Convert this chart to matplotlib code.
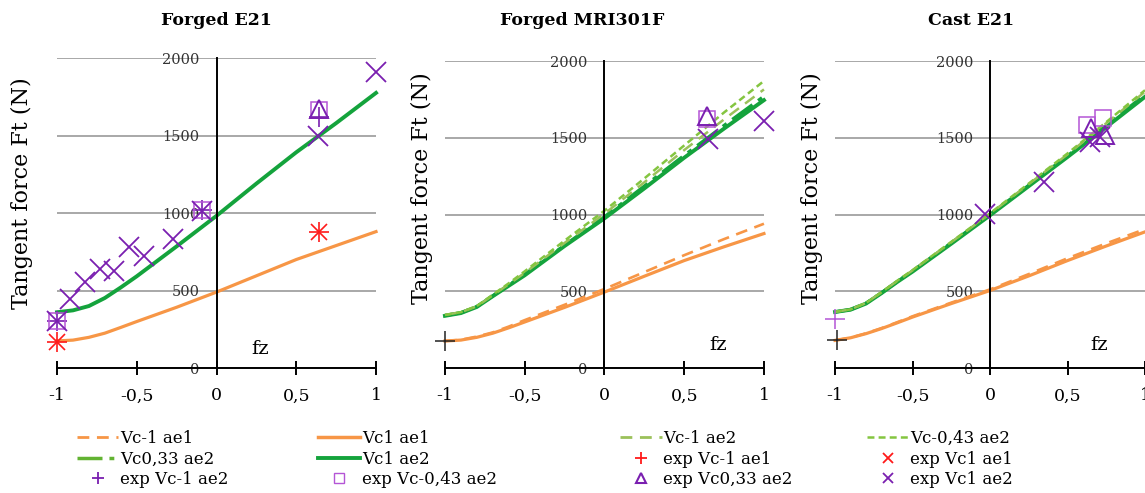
import matplotlib
matplotlib.use("Agg")
import matplotlib.pyplot as plt
from matplotlib.lines import Line2D

# Fonts / general style
plt.rcParams["font.family"] = ["DejaVu Serif"]
plt.rcParams["lines.scale_dashes"] = False

# Colors
orange = "#f79646"
dark_green = "#14a33c"
mid_green = "#62b332"
olive_green = "#9bc15a"
light_green = "#84c540"
purple = "#7a1fb0"
light_purple = "#b455d6"
red = "#ff1a1a"

# Simulated curves: fz grid and tangent force Ft (N)
fz_grid = [-1, -0.9, -0.8, -0.7, -0.6, -0.5, -0.25, 0, 0.25, 0.5, 0.75, 1]

# Forged E21
e21_vc1_ae1 = [175, 180, 198, 225, 262, 300, 392, 490, 595, 700, 790, 880]
e21_vc1_ae2 = [360, 372, 400, 452, 520, 592, 785, 982, 1190, 1392, 1580, 1775]

# Forged MRI301F
mri_vcm1_ae1 = [176, 184, 205, 232, 270, 312, 412, 515, 625, 735, 840, 940]
mri_vc1_ae1 = [176, 182, 200, 227, 262, 300, 395, 495, 598, 700, 790, 876]
mri_vcm1_ae2 = [346, 364, 402, 474, 546, 620, 815, 1005, 1210, 1420, 1620, 1815]
mri_vcm043_ae2 = [346, 364, 404, 478, 552, 630, 830, 1025, 1235, 1450, 1665, 1870]
mri_vc033_ae2 = [342, 360, 400, 470, 540, 610, 800, 985, 1185, 1385, 1580, 1770]
mri_vc1_ae2 = [340, 358, 398, 468, 536, 604, 795, 975, 1170, 1370, 1560, 1745]

# Cast E21
cast_vcm1_ae1 = [180, 198, 226, 260, 298, 337, 426, 512, 612, 715, 812, 905]
cast_vc1_ae1 = [180, 197, 224, 257, 294, 332, 420, 505, 600, 700, 795, 887]
cast_vcm1_ae2 = [366, 382, 424, 494, 566, 636, 820, 1005, 1198, 1392, 1595, 1800]
cast_vcm043_ae2 = [366, 382, 424, 494, 568, 638, 822, 1008, 1202, 1398, 1602, 1810]
cast_vc033_ae2 = [365, 381, 422, 490, 562, 632, 815, 1000, 1190, 1382, 1580, 1780]
cast_vc1_ae2 = [365, 380, 420, 488, 560, 628, 810, 995, 1185, 1375, 1570, 1767]

# Experimental points: Forged E21
e21_exp_vcm1_ae1_fz = [-1, 0.64]
e21_exp_vcm1_ae1_ft = [168, 875]
e21_exp_vc1_ae1_fz = [-1, 0.64]
e21_exp_vc1_ae1_ft = [168, 875]
e21_exp_vcm1_ae2_fz = [-1, -0.09, 0.64]
e21_exp_vcm1_ae2_ft = [306, 1020, 1620]
e21_exp_vcm043_ae2_fz = [-1, -0.09, 0.64]
e21_exp_vcm043_ae2_ft = [306, 1020, 1665]
e21_exp_vc033_ae2_fz = [0.64]
e21_exp_vc033_ae2_ft = [1672]
e21_exp_vc1_ae2_fz = [-1, -0.916, -0.823, -0.73, -0.645, -0.55, -0.453, -0.273, -0.092, 0.639, 1.0]
e21_exp_vc1_ae2_ft = [306, 446, 553, 639, 628, 778, 724, 832, 1014, 1496, 1908]

# Experimental points: Forged MRI301F
mri_exp_ref_fz = [-1]
mri_exp_ref_ft = [176]
mri_exp_vcm043_ae2_fz = [0.64]
mri_exp_vcm043_ae2_ft = [1625]
mri_exp_vc033_ae2_fz = [0.64]
mri_exp_vc033_ae2_ft = [1645]
mri_exp_vc1_ae2_fz = [0.65, 1.0]
mri_exp_vc1_ae2_ft = [1495, 1610]

# Experimental points: Cast E21
cast_exp_ref_fz = [-0.99]
cast_exp_ref_ft = [180]
cast_exp_vcm1_ae2_fz = [-1]
cast_exp_vcm1_ae2_ft = [317]
cast_exp_vcm043_ae2_fz = [0.628, 0.73]
cast_exp_vcm043_ae2_ft = [1582, 1626]
cast_exp_vc033_ae2_fz = [0.654, 0.74]
cast_exp_vc033_ae2_ft = [1562, 1520]
cast_exp_vc1_ae2_fz = [-0.03, 0.35, 0.643, 0.708]
cast_exp_vc1_ae2_ft = [1006, 1213, 1474, 1506]

x_ticks = [-1, -0.5, 0, 0.5, 1]
x_tick_labels = ["-1", "-0,5", "0", "0,5", "1"]
y_ticks = [0, 500, 1000, 1500, 2000]
y_tick_labels = ["0", "500", "1000", "1500", "2000"]

titles = ["Forged E21", "Forged MRI301F", "Cast E21"]

# Line styles
dash_long = (0, (8.5, 5.5))
dash_mix = (0, (18, 5, 3.5, 5))
dash_short = (0, (5, 3))

fig = plt.figure(figsize=(11.45, 4.93), dpi=100)

# Axes placement (figure fractions)
ax_rects = [
    [0.0498, 0.2535, 0.2786, 0.6288],
    [0.3886, 0.2535, 0.2786, 0.6227],
    [0.7293, 0.2535, 0.2707, 0.6227],
]
title_x = [0.5, 0.43, 0.44]
ylabel_pos = [(-0.075, 0.565), (-0.038, 0.586), (-0.039, 0.586)]
fz_pos = [(0.22, 124), (0.656, 148), (0.645, 148)]

axes = [fig.add_axes(r) for r in ax_rects]


def style_axis(ax, idx):
    ax.set_xlim(-1, 1)
    ax.set_ylim(0, 2000)
    for s in ["top", "right"]:
        ax.spines[s].set_visible(False)
    ax.spines["left"].set_position(("data", 0))
    ax.spines["left"].set_linewidth(1.4)
    ax.spines["bottom"].set_linewidth(1.4)
    ax.set_xticks(x_ticks)
    ax.set_xticklabels(x_tick_labels)
    ax.set_yticks(y_ticks)
    ax.set_yticklabels(y_tick_labels)
    ax.tick_params(axis="x", direction="inout", length=10, width=1.4, pad=9, labelsize=12.5)
    ax.tick_params(axis="y", length=0, pad=12, labelsize=10.5, labelcolor="#333333")
    ax.grid(axis="y", color="#a8a8a8", lw=1.4)
    ax.grid(axis="x", visible=False)
    ax.set_ylabel("Tangent force Ft (N)", fontsize=16)
    ax.yaxis.set_label_coords(*ylabel_pos[idx])
    ax.text(fz_pos[idx][0], fz_pos[idx][1], "fz", fontsize=14, ha="left", va="center")
    fig.text(ax_rects[idx][0] + title_x[idx] * ax_rects[idx][2], 0.958, titles[idx],
             fontsize=12.5, fontweight="bold", ha="center", va="center")


for i, ax in enumerate(axes):
    style_axis(ax, i)

mk = dict(linestyle="none", clip_on=False, zorder=5)

# Forged E21
ax = axes[0]
ax.plot(fz_grid, e21_vc1_ae1, color=orange, lw=2.3, clip_on=False)
ax.plot(fz_grid, e21_vc1_ae2, color=dark_green, lw=2.8, clip_on=False)
ax.plot(e21_exp_vcm1_ae1_fz, e21_exp_vcm1_ae1_ft, marker="+", ms=15, mew=1.2, color=red, **mk)
ax.plot(e21_exp_vc1_ae1_fz, e21_exp_vc1_ae1_ft, marker="x", ms=12, mew=1.2, color=red, **mk)
ax.plot(e21_exp_vcm1_ae2_fz, e21_exp_vcm1_ae2_ft, marker="+", ms=15, mew=1.2, color=purple, **mk)
ax.plot(e21_exp_vcm043_ae2_fz, e21_exp_vcm043_ae2_ft, marker="s", ms=12, mew=1.1, mfc="none", color=light_purple, **mk)
ax.plot(e21_exp_vc033_ae2_fz, e21_exp_vc033_ae2_ft, marker="^", ms=13, mew=1.4, mfc="none", color=purple, **mk)
ax.plot(e21_exp_vc1_ae2_fz, e21_exp_vc1_ae2_ft, marker="x", ms=14, mew=1.3, color=purple, **mk)

# Forged MRI301F and Cast E21
for ax, curves, ref, sq, tri, xs, pl in [
    (axes[1],
     [mri_vcm1_ae1, mri_vc1_ae1, mri_vcm1_ae2, mri_vcm043_ae2, mri_vc033_ae2, mri_vc1_ae2],
     (mri_exp_ref_fz, mri_exp_ref_ft),
     (mri_exp_vcm043_ae2_fz, mri_exp_vcm043_ae2_ft),
     (mri_exp_vc033_ae2_fz, mri_exp_vc033_ae2_ft),
     (mri_exp_vc1_ae2_fz, mri_exp_vc1_ae2_ft), None),
    (axes[2],
     [cast_vcm1_ae1, cast_vc1_ae1, cast_vcm1_ae2, cast_vcm043_ae2, cast_vc033_ae2, cast_vc1_ae2],
     (cast_exp_ref_fz, cast_exp_ref_ft),
     (cast_exp_vcm043_ae2_fz, cast_exp_vcm043_ae2_ft),
     (cast_exp_vc033_ae2_fz, cast_exp_vc033_ae2_ft),
     (cast_exp_vc1_ae2_fz, cast_exp_vc1_ae2_ft),
     (cast_exp_vcm1_ae2_fz, cast_exp_vcm1_ae2_ft)),
]:
    vcm1_ae1, vc1_ae1, vcm1_ae2, vcm043_ae2, vc033_ae2, vc1_ae2 = curves
    ax.plot(fz_grid, vc1_ae1, color=orange, lw=2.3, clip_on=False)
    ax.plot(fz_grid, vcm1_ae1, color=orange, lw=1.9, ls=dash_long, clip_on=False)
    ax.plot(fz_grid, vc1_ae2, color=dark_green, lw=2.8, clip_on=False)
    ax.plot(fz_grid, vc033_ae2, color=dark_green, lw=2.4, ls=dash_mix, clip_on=False)
    ax.plot(fz_grid, vcm1_ae2, color=olive_green, lw=1.8, ls=dash_long, clip_on=False)
    ax.plot(fz_grid, vcm043_ae2, color=light_green, lw=1.8, ls=dash_short, clip_on=False)
    ax.plot(ref[0], ref[1], marker="+", ms=15, mew=1.1, color="#222222", **mk)
    if pl is not None:
        ax.plot(pl[0], pl[1], marker="+", ms=15, mew=1.1, color=light_purple, **mk)
    ax.plot(sq[0], sq[1], marker="s", ms=12, mew=1.1, mfc="none", color=light_purple, **mk)
    ax.plot(tri[0], tri[1], marker="^", ms=13, mew=1.4, mfc="none", color=purple, **mk)
    ax.plot(xs[0], xs[1], marker="x", ms=14, mew=1.3, color=purple, **mk)

# Legend (row-major order; split in two blocks of two columns)
rows = [
    [Line2D([], [], color=orange, lw=2, ls=dash_long, label="Vc-1 ae1"),
     Line2D([], [], color=orange, lw=2.5, label="Vc1 ae1"),
     Line2D([], [], color=olive_green, lw=2, ls=dash_long, label="Vc-1 ae2"),
     Line2D([], [], color=light_green, lw=1.8, ls=dash_short, label="Vc-0,43 ae2")],
    [Line2D([], [], color=mid_green, lw=2.5, ls=dash_mix, label="Vc0,33 ae2"),
     Line2D([], [], color=dark_green, lw=2.8, label="Vc1 ae2"),
     Line2D([], [], color=red, marker="+", ms=8, mew=1.3, ls="none", label="exp Vc-1 ae1"),
     Line2D([], [], color=red, marker="x", ms=7, mew=1.3, ls="none", label="exp Vc1 ae1")],
    [Line2D([], [], color=purple, marker="+", ms=8, mew=1.3, ls="none", label="exp Vc-1 ae2"),
     Line2D([], [], color=light_purple, marker="s", ms=7, mew=1, mfc="none", ls="none", label="exp Vc-0,43 ae2"),
     Line2D([], [], color=purple, marker="^", ms=7, mew=1.5, mfc="none", ls="none", label="exp Vc0,33 ae2"),
     Line2D([], [], color=purple, marker="x", ms=7, mew=1.3, ls="none", label="exp Vc1 ae2")],
]
leg_opts = dict(ncol=2, loc="upper left", frameon=False, fontsize=12, handlelength=2.5,
                handletextpad=0.1, labelspacing=0.22, borderpad=0, borderaxespad=0)
for cols, x0, cs in [((0, 1), 0.067, 5.4), ((2, 3), 0.5415, 4.45)]:
    hs = [rows[r][c] for c in cols for r in range(3)]
    fig.legend(handles=hs, labels=[h.get_label() for h in hs],
               bbox_to_anchor=(x0, 0.128), columnspacing=cs, **leg_opts)

fig.savefig("out.png", dpi=100)
